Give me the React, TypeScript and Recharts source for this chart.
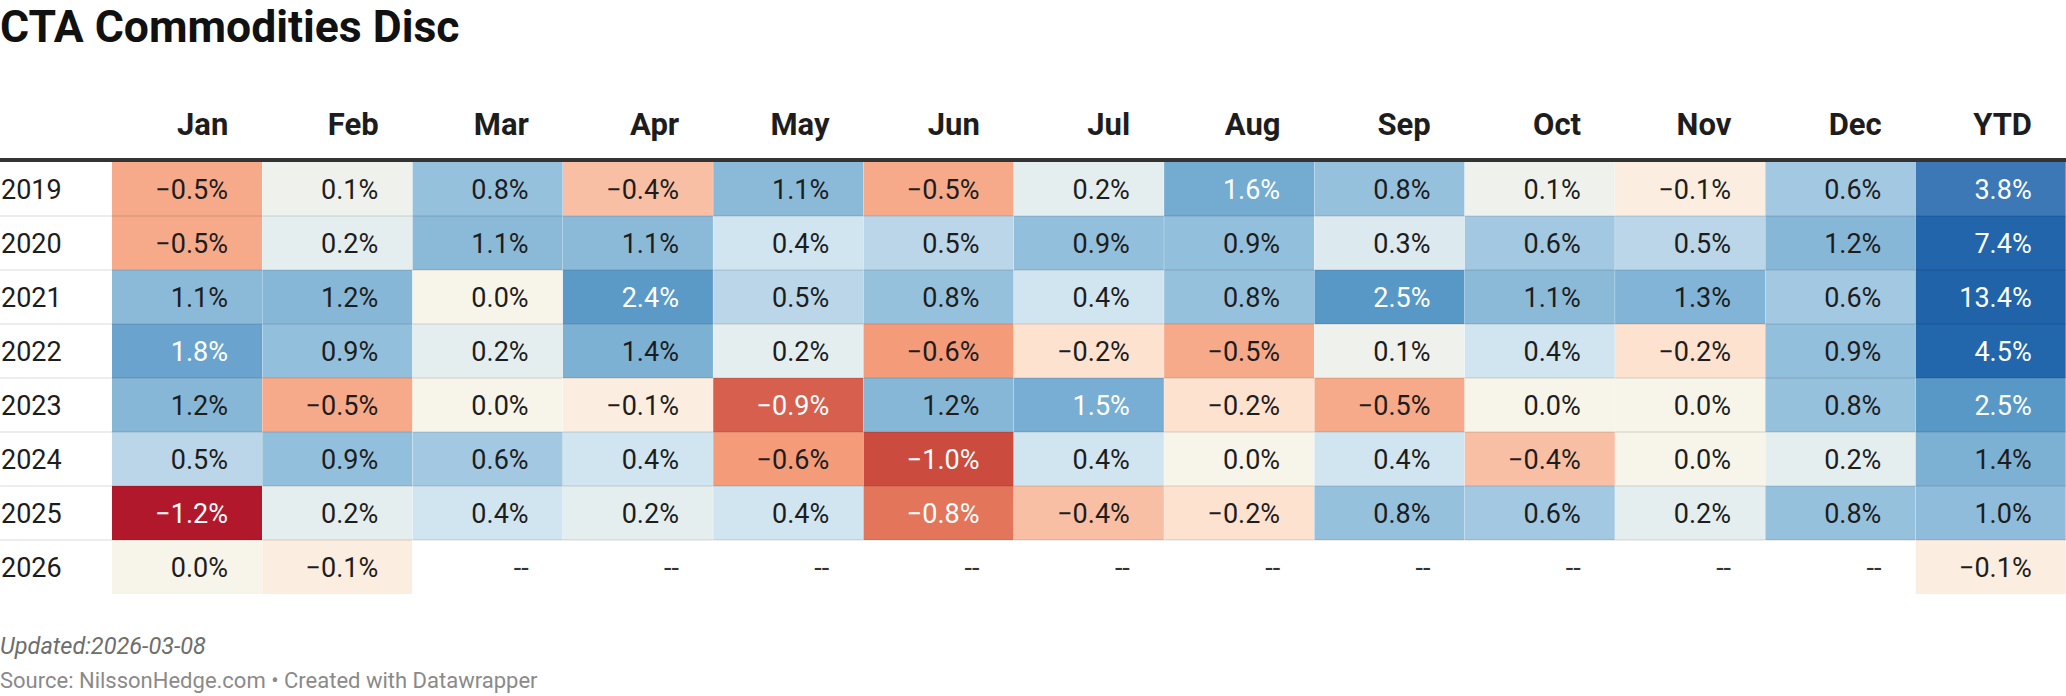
import { BarChart, Bar, XAxis, YAxis } from 'recharts'

const YEARS = ['2019', '2020', '2021', '2022', '2023', '2024', '2025', '2026']
const MONTHS = ['Jan', 'Feb', 'Mar', 'Apr', 'May', 'Jun', 'Jul', 'Aug', 'Sep', 'Oct', 'Nov', 'Dec', 'YTD']

// monthly returns in %, last entry is YTD; null = no data yet
const R2019 = [-0.5, 0.1, 0.8, -0.4, 1.1, -0.5, 0.2, 1.6, 0.8, 0.1, -0.1, 0.6, 3.8]
const R2020 = [-0.5, 0.2, 1.1, 1.1, 0.4, 0.5, 0.9, 0.9, 0.3, 0.6, 0.5, 1.2, 7.4]
const R2021 = [1.1, 1.2, 0.0, 2.4, 0.5, 0.8, 0.4, 0.8, 2.5, 1.1, 1.3, 0.6, 13.4]
const R2022 = [1.8, 0.9, 0.2, 1.4, 0.2, -0.6, -0.2, -0.5, 0.1, 0.4, -0.2, 0.9, 4.5]
const R2023 = [1.2, -0.5, 0.0, -0.1, -0.9, 1.2, 1.5, -0.2, -0.5, 0.0, 0.0, 0.8, 2.5]
const R2024 = [0.5, 0.9, 0.6, 0.4, -0.6, -1.0, 0.4, 0.0, 0.4, -0.4, 0.0, 0.2, 1.4]
const R2025 = [-1.2, 0.2, 0.4, 0.2, 0.4, -0.8, -0.4, -0.2, 0.8, 0.6, 0.2, 0.8, 1.0]
const R2026 = [0.0, -0.1, null, null, null, null, null, null, null, null, null, null, -0.1]

const ROWS: (number | null)[][] = [R2019, R2020, R2021, R2022, R2023, R2024, R2025, R2026]

const W = 2066
const H = 696
const HEAD_H = 162
const YEAR_COL = 112
const FOOT_H = 102
const ROW_H = (H - HEAD_H - FOOT_H) / YEARS.length
const BAND = (W - YEAR_COL) / MONTHS.length
const PAD_R = 34
const FONT = 'Roboto, "Noto Sans", sans-serif'
const INK = '#1d1d1d'

const STOPS: [number, string][] = [
  [-1.2, '#b2182b'],
  [-1.0, '#cb4b3f'],
  [-0.9, '#d6604d'],
  [-0.8, '#e3765a'],
  [-0.6, '#f49b7a'],
  [-0.5, '#f6aa8a'],
  [-0.4, '#f9bfa4'],
  [-0.2, '#fde2d0'],
  [-0.1, '#fbeddf'],
  [0, '#f7f5e9'],
  [0.1, '#eff2ec'],
  [0.2, '#e5eeee'],
  [0.3, '#dce9ef'],
  [0.4, '#d1e5f0'],
  [0.5, '#bad6e8'],
  [0.6, '#a3c8e1'],
  [0.8, '#96c1dd'],
  [1.1, '#8bbad9'],
  [1.4, '#7cb1d4'],
  [1.8, '#6aa4ce'],
  [2.5, '#5898c6'],
  [3.8, '#3b78b5'],
  [4.5, '#2266ac'],
  [13.4, '#2163a9'],
]

function rgb(h: string) {
  return [1, 3, 5].map((i) => parseInt(h.slice(i, i + 2), 16))
}

function cellColor(v: number | null) {
  if (v == null) return '#ffffff'
  if (v <= STOPS[0][0]) return STOPS[0][1]
  for (let k = 1; k < STOPS.length; k++) {
    const [v1, c1] = STOPS[k]
    if (v <= v1) {
      const [v0, c0] = STOPS[k - 1]
      const t = (v - v0) / (v1 - v0)
      const a = rgb(c0)
      const b = rgb(c1)
      const m = a.map((x, i) => Math.round(x + (b[i] - x) * t))
      return `rgb(${m[0]},${m[1]},${m[2]})`
    }
  }
  return STOPS[STOPS.length - 1][1]
}

function textColor(v: number | null) {
  if (v == null) return '#333'
  return v <= -0.8 || v >= 1.5 ? '#ffffff' : INK
}

function fmt(v: number | null) {
  if (v == null) return '--'
  const s = Math.abs(v).toFixed(1) + '%'
  return v < 0 ? '\u2212' + s : s
}

const chartData = MONTHS.map((m) => {
  const o: Record<string, string | number> = { month: m }
  YEARS.forEach((_, i) => {
    o['r' + i] = 1
  })
  return o
})

function makeCell(row: number) {
  return (p: any) => {
    const col = MONTHS.indexOf(p.payload.month)
    const v = ROWS[row][col]
    // reversed axis gives negative heights, so normalise the box
    const top = Math.min(p.y, p.y + p.height)
    const h = Math.abs(p.height)
    const { x, width } = p
    return (
      <g>
        <rect x={x} y={top} width={width} height={h} fill={cellColor(v)} />
        {row > 0 && <rect x={x} y={top - 1} width={width} height={2} fill="rgba(0,0,0,0.07)" />}
        <text
          x={x + width - PAD_R}
          y={top + h / 2 + 9.5}
          textAnchor="end"
          fontFamily={FONT}
          fontSize={27}
          fill={textColor(v)}
        >
          {fmt(v)}
        </text>
      </g>
    )
  }
}

function MonthTick(p: any) {
  return (
    <text
      x={p.x + BAND / 2 - PAD_R}
      y={HEAD_H - 27}
      textAnchor="end"
      fontFamily={FONT}
      fontWeight={700}
      fontSize={31}
      fill={INK}
    >
      {p.payload.value}
    </text>
  )
}

function YearTick(p: any) {
  const i = Math.floor(p.payload.value)
  return (
    <g>
      {i > 0 && <rect x={0} y={p.y - ROW_H / 2 - 1} width={YEAR_COL} height={2} fill="#ededed" />}
      <text x={1} y={p.y + 9.5} fontFamily={FONT} fontSize={27} fill={INK}>
        {YEARS[i]}
      </text>
    </g>
  )
}

export default function App() {
  return (
    <div style={{ position: 'absolute', left: 0, top: 0, width: W, height: H, background: '#fff', fontFamily: FONT }}>
      <div style={{ position: 'absolute', left: 0, top: 1, fontSize: 44.5, fontWeight: 700, color: '#111', lineHeight: 'normal', whiteSpace: 'nowrap' }}>
        CTA Commodities Disc
      </div>
      <BarChart
        width={W}
        height={H}
        data={chartData}
        margin={{ top: 0, right: 0, bottom: FOOT_H, left: 0 }}
        barCategoryGap={0}
        barGap={0}
      >
        <XAxis
          dataKey="month"
          orientation="top"
          height={HEAD_H}
          axisLine={false}
          tickLine={false}
          interval={0}
          tick={(p: any) => <MonthTick {...p} />}
        />
        <YAxis
          type="number"
          domain={[0, YEARS.length]}
          reversed
          ticks={YEARS.map((_, i) => i + 0.5)}
          interval={0}
          width={YEAR_COL}
          axisLine={false}
          tickLine={false}
          tick={(p: any) => <YearTick {...p} />}
        />
        {YEARS.map((y, i) => (
          <Bar key={y} dataKey={'r' + i} stackId="grid" isAnimationActive={false} shape={makeCell(i)} />
        ))}
      </BarChart>
      <div style={{ position: 'absolute', left: 0, top: 158, width: W, height: 4, background: '#333' }} />
      <div style={{ position: 'absolute', left: 0, top: 632, fontSize: 23.5, fontStyle: 'italic', color: '#6e6e6e', lineHeight: 'normal', whiteSpace: 'nowrap' }}>
        Updated:2026-03-08
      </div>
      <div style={{ position: 'absolute', left: 0, top: 668, fontSize: 22, color: '#8a8a8a', lineHeight: 'normal', whiteSpace: 'nowrap' }}>
        Source: NilssonHedge.com • Created with Datawrapper
      </div>
    </div>
  )
}
